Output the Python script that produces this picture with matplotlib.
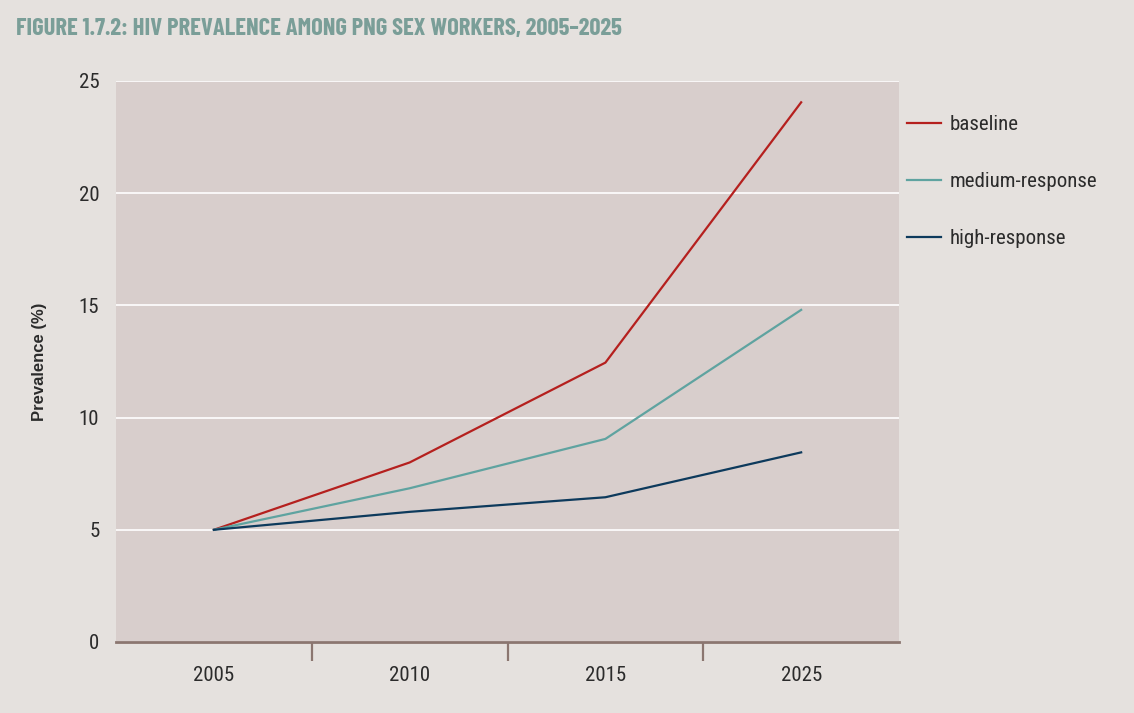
import matplotlib
matplotlib.use('Agg')
import matplotlib.pyplot as plt

# data
years = ["2005", "2010", "2015", "2025"]
baseline = [5.0, 8.0, 12.45, 24.05]
medium_response = [5.0, 6.85, 9.05, 14.8]
high_response = [5.0, 5.8, 6.45, 8.45]
y_ticks = [0, 5, 10, 15, 20, 25]

plt.rcParams['font.family'] = ['Roboto Condensed', 'DejaVu Sans']

FIG_BG = '#e5e1de'
AX_BG = '#d8cecc'
TXT = '#2b2b2b'

fig = plt.figure(figsize=(11.34, 7.13), dpi=100, facecolor=FIG_BG)
ax = fig.add_axes([0.1023, 0.0996, 0.6905, 0.7868], facecolor=AX_BG)

x = list(range(len(years)))
ax.plot(x, baseline, color='#b5201e', lw=1.6, label='baseline')
ax.plot(x, medium_response, color='#5fa3a0', lw=1.6, label='medium-response')
ax.plot(x, high_response, color='#0d3a5c', lw=1.6, label='high-response')

ax.set_xlim(-0.5, len(years) - 0.5)
ax.set_ylim(0, 25)
ax.set_yticks(y_ticks)
ax.tick_params(axis='y', length=0, pad=12, labelsize=15, labelcolor=TXT)
ax.yaxis.grid(True, color='white', lw=1.2)
ax.set_axisbelow(True)

# category labels centred, ticks at the boundaries
ax.set_xticks(x)
ax.set_xticklabels(years)
ax.set_xticks([i + 0.5 for i in x[:-1]], minor=True)
ax.tick_params(axis='x', which='major', length=0, pad=17, labelsize=15, labelcolor=TXT)
ax.tick_params(axis='x', which='minor', length=14, width=1.6, color='#8b7670')

for s in ['top', 'right', 'left']:
    ax.spines[s].set_visible(False)
ax.spines['bottom'].set_color('#8b7670')
ax.spines['bottom'].set_linewidth(2)

ax.set_ylabel("Prevalence (%)", family=['Liberation Sans', 'DejaVu Sans'],
              fontweight='bold', fontsize=12, color=TXT, labelpad=23)

leg = ax.legend(loc='upper left', bbox_to_anchor=(1.0, 0.954), frameon=False,
                fontsize=15, labelspacing=1.82, handlelength=1.6, handletextpad=0.45,
                borderaxespad=0.0)
for t in leg.get_texts():
    t.set_color(TXT)

fig.text(0.014, 0.959, "FIGURE 1.7.2: HIV PREVALENCE AMONG PNG SEX WORKERS, 2005\u20132025",
         family=['Barlow Condensed', 'Roboto Condensed', 'DejaVu Sans'],
         fontsize=17.7, fontweight='bold', color='#7a9e98', va='center', ha='left')

fig.savefig("out.png", dpi=100, facecolor=FIG_BG)
